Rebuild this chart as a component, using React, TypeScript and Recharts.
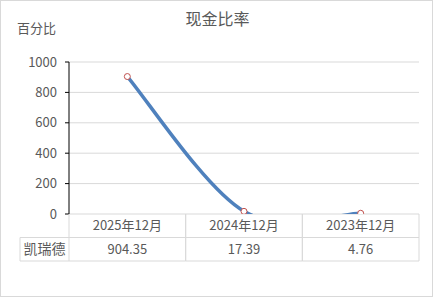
import { LineChart, Line, XAxis, YAxis, CartesianGrid } from "recharts";

const periods = ["2025年12月", "2024年12月", "2023年12月"];
const seriesName = "凯瑞德";
const cashRatio = [904.35, 17.39, 4.76];
const yTicks = [0, 200, 400, 600, 800, 1000];

const data = periods.map((period, i) => ({ period, value: cashRatio[i] }));

const FONT = '"Microsoft YaHei", "Noto Sans CJK SC", sans-serif';
const TEXT = "#595959";
const GRID = "#d9d9d9";

const W = 433;
const H = 297;
const PLOT_LEFT = 69;
const PLOT_RIGHT = 14;
const ROW_H = 23.5;
const BAND = (W - PLOT_LEFT - PLOT_RIGHT) / periods.length;

// Excel-like smoothed line: Catmull-Rom turned into cubic beziers (1/6 tangents)
function excelSmooth(context: any) {
  let pts: [number, number][] = [];
  return {
    areaStart() {},
    areaEnd() {},
    lineStart() {
      pts = [];
    },
    point(x: number, y: number) {
      pts.push([+x, +y]);
    },
    lineEnd() {
      if (!pts.length) return;
      context.moveTo(pts[0][0], pts[0][1]);
      for (let i = 0; i < pts.length - 1; i++) {
        const p0 = pts[Math.max(i - 1, 0)];
        const p1 = pts[i];
        const p2 = pts[i + 1];
        const p3 = pts[Math.min(i + 2, pts.length - 1)];
        context.bezierCurveTo(
          p1[0] + (p2[0] - p0[0]) / 6,
          p1[1] + (p2[1] - p0[1]) / 6,
          p2[0] - (p3[0] - p1[0]) / 6,
          p2[1] - (p3[1] - p1[1]) / 6,
          p2[0],
          p2[1]
        );
      }
    },
  };
}

function TableTick(props: any) {
  const { x, y, payload, index } = props;
  const left = x - BAND / 2;
  const right = x + BAND / 2;
  return (
    <g>
      <line x1={left} y1={y} x2={left} y2={y + ROW_H * 2} stroke={GRID} />
      <line x1={right} y1={y} x2={right} y2={y + ROW_H * 2} stroke={GRID} />
      <line x1={left} y1={y + ROW_H} x2={right} y2={y + ROW_H} stroke={GRID} />
      <line x1={left} y1={y + ROW_H * 2} x2={right} y2={y + ROW_H * 2} stroke={GRID} />
      <text x={x} y={y + ROW_H / 2} dy="0.35em" textAnchor="middle" fill={TEXT} fontSize={13} fontFamily={FONT}>
        {payload.value}
      </text>
      <text x={x} y={y + ROW_H * 1.5} dy="0.35em" textAnchor="middle" fill={TEXT} fontSize={13} fontFamily={FONT}>
        {cashRatio[index].toFixed(2)}
      </text>
      {index === 0 && (
        <g>
          <line x1={19} y1={y + ROW_H} x2={left} y2={y + ROW_H} stroke={GRID} />
          <line x1={19} y1={y + ROW_H * 2} x2={left} y2={y + ROW_H * 2} stroke={GRID} />
          <line x1={19} y1={y + ROW_H} x2={19} y2={y + ROW_H * 2} stroke={GRID} />
          <text x={(19 + left) / 2} y={y + ROW_H * 1.5} dy="0.35em" textAnchor="middle" fill={TEXT} fontSize={14} fontFamily={FONT}>
            {seriesName}
          </text>
        </g>
      )}
    </g>
  );
}

export default function App() {
  return (
    <div
      style={{
        position: "absolute",
        left: 0,
        top: 0,
        width: W,
        height: H,
        boxSizing: "border-box",
        border: "1px solid #d9d9d9",
        background: "#fff",
        fontFamily: FONT,
      }}
    >
      <div style={{ position: "absolute", left: 0, width: W, top: 5, textAlign: "center", fontSize: 16, color: TEXT }}>
        现金比率
      </div>
      <div style={{ position: "absolute", left: 16, top: 17, fontSize: 13, color: TEXT }}>百分比</div>
      <LineChart
        width={W - 2}
        height={H - 2}
        data={data}
        margin={{ top: 61, right: PLOT_RIGHT - 1, bottom: 35, left: 19 }}
        style={{ position: "absolute", left: 0, top: 0 }}
      >
        <CartesianGrid stroke={GRID} vertical={false} />
        <XAxis
          dataKey="period"
          axisLine={false}
          tickLine={false}
          tickSize={0}
          tickMargin={0}
          interval={0}
          height={ROW_H * 2}
          padding={{ left: BAND / 2, right: BAND / 2 }}
          tick={<TableTick />}
        />
        <YAxis
          width={49}
          domain={[0, 1000]}
          ticks={yTicks}
          allowDataOverflow
          axisLine={{ stroke: "#000" }}
          tickLine={{ stroke: "#000" }}
          tickSize={4}
          tickMargin={8}
          tick={{ fill: TEXT, fontSize: 13, fontFamily: FONT }}
        />
        <Line
          dataKey="value"
          type={excelSmooth as any}
          stroke="#4f81bd"
          strokeWidth={3.5}
          dot={{ r: 3, fill: "#fff", stroke: "#c0504d", strokeWidth: 1 }}
          isAnimationActive={false}
        />
      </LineChart>
    </div>
  );
}
